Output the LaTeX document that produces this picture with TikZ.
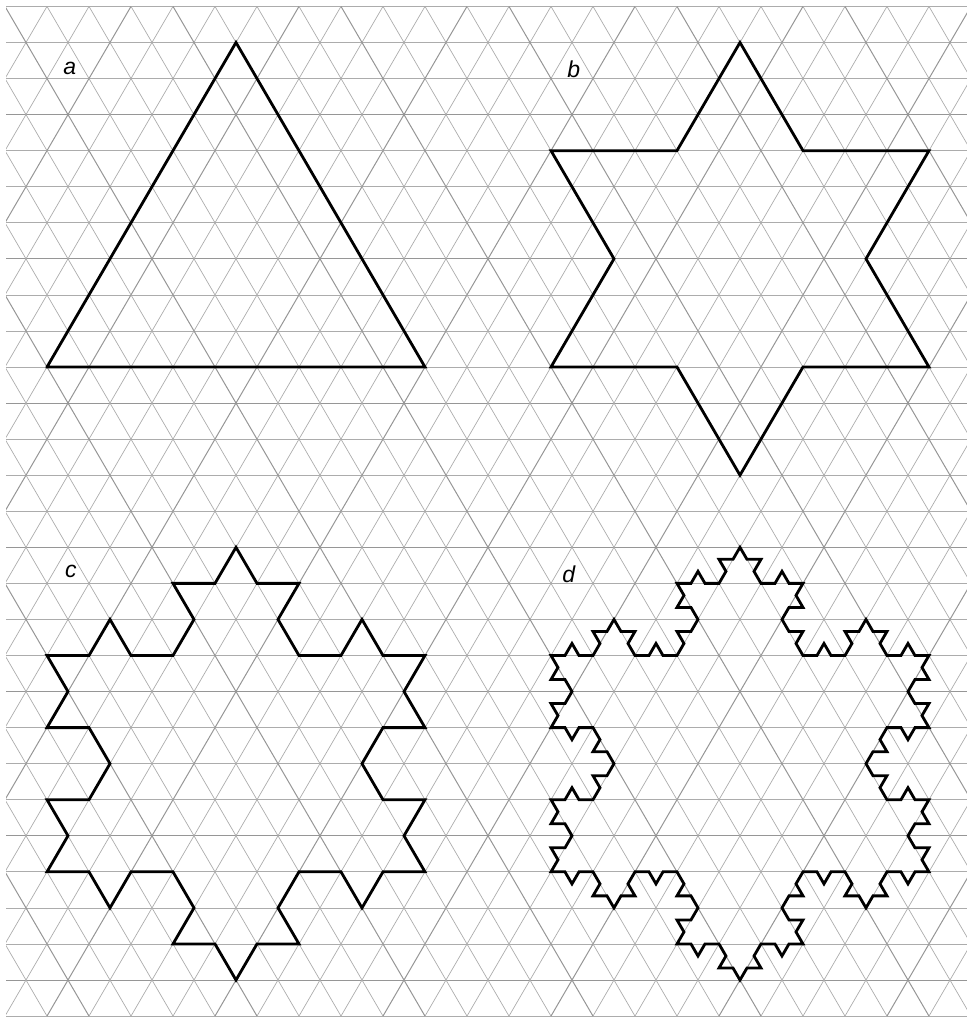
\documentclass[tikz,border=0pt]{standalone}
\usepackage{fontspec}
\newfontfamily\lblfont{Liberation Sans}
\usetikzlibrary{lindenmayersystems}
\pgfdeclarelindenmayersystem{koch}{\rule{F -> F-F++F-F}}
\tikzset{
  gl/.style={gray!65,line width=0.35pt},
  gm/.style={gray!82,line width=0.5pt},
  kc/.style={black,line width=1.4pt,line join=miter,yscale=0.9914},
  lb/.style={anchor=base west,inner sep=0pt,font=\lblfont\itshape\fontsize{11.5}{13}\selectfont},
}
\begin{document}
\begin{tikzpicture}[x=21pt,y=-18.03pt]
\useasboundingbox (-1.119,-10.178) rectangle (21.976,18.192);
\begin{scope}
\clip (-0.976,-10.03) rectangle (21.905,18.03);
\foreach \r in {-10,...,18}{\pgfmathtruncatemacro\m{mod(\r+40,4)}
  \ifnum\m=1 \draw[gm] (-1.2,\r)--(22.2,\r); \else \draw[gl] (-1.2,\r)--(22.2,\r); \fi}
\foreach \a in {-6,...,31}{\pgfmathtruncatemacro\m{mod(\a+40,4)}
  \ifnum\m=1 \draw[gm] (\a-9,18)--(\a+5,-10); \else \draw[gl] (\a-9,18)--(\a+5,-10); \fi}
\foreach \b in {-10,...,27}{\pgfmathtruncatemacro\m{mod(\b+40,4)}
  \ifnum\m=0 \draw[gm] (\b-5,-10)--(\b+9,18); \else \draw[gl] (\b-5,-10)--(\b+9,18); \fi}
\end{scope}
% the four stages
\draw[shift={(0,0)},kc,l-system={koch,axiom=F++F++F,order=0,step=189pt,angle=60}] (0,0) lindenmayer system -- cycle;
\draw[shift={(12,0)},kc,l-system={koch,axiom=F++F++F,order=1,step=63pt,angle=60}] (0,0) lindenmayer system -- cycle;
\draw[shift={(0,14)},kc,l-system={koch,axiom=F++F++F,order=2,step=21pt,angle=60}] (0,0) lindenmayer system -- cycle;
\draw[shift={(12,14)},kc,l-system={koch,axiom=F++F++F,order=3,step=7pt,angle=60}] (0,0) lindenmayer system -- cycle;
\node[lb] (la) at (0.38,-8.12) {a}; \node[lb] (lb) at (12.38,-8.02) {b};
\node[lb] (lc) at (0.42,5.85) {c}; \node[lb] (ld) at (12.26,5.97) {d};
\end{tikzpicture}
\end{document}
